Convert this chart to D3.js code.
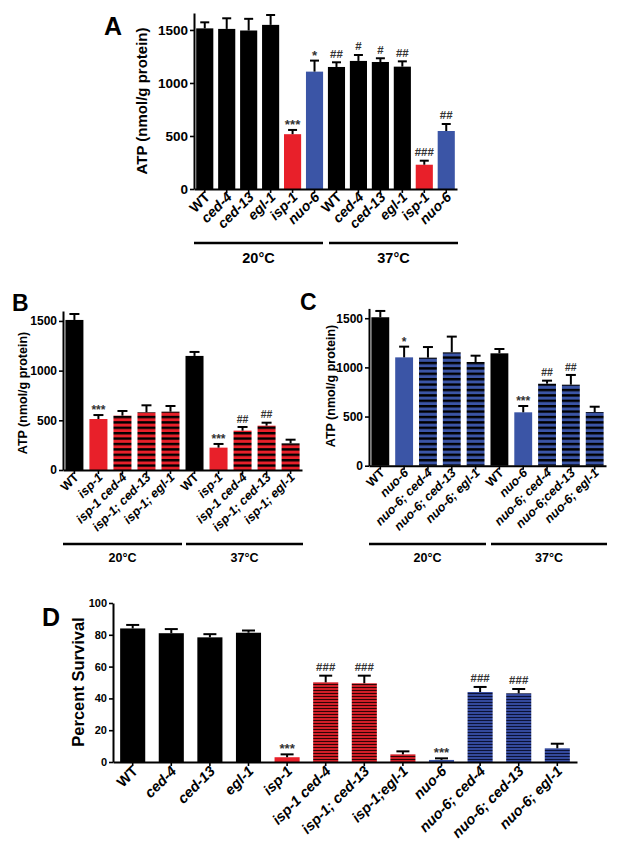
<!DOCTYPE html>
<html><head><meta charset="utf-8">
<script src="https://cdn.jsdelivr.net/npm/d3@7"></script>
<style>
body{margin:0;background:#fff;}
text{font-family:Arial,"Liberation Sans",sans-serif;font-weight:bold;}
</style></head>
<body>
<svg id="fig" width="621" height="851"></svg>
<script>
// ---------- DATA ----------
// Panel A
const catsA = ["WT","ced-4","ced-13","egl-1","isp-1","nuo-6","WT","ced-4","ced-13","egl-1","isp-1","nuo-6"];
const valsA = [1515,1510,1495,1548,517,1107,1151,1208,1198,1154,229,547];
const errA  = [57,100,110,93,40,104,44,56,35,50,38,66];
const typeA = ["k","k","k","k","r","b","k","k","k","k","r","b"];
const sigA  = ["","","","","***","*","##","#","#","##","###","##"];
const groupsA = ["20°C","37°C"];
const ticksA = [0,500,1000,1500];

// Panel B
const catsB = ["WT","isp-1","isp-1 ced-4","isp-1; ced-13","isp-1; egl-1","WT","isp-1","isp-1 ced-4","isp-1; ced-13","isp-1; egl-1"];
const valsB = [1510,513,547,581,587,1148,225,396,446,268];
const errB  = [60,40,47,70,57,40,37,37,30,37];
const typeB = ["k","r","rh","rh","rh","k","r","rh","rh","rh"];
const sigB  = ["","***","","","","","***","##","##",""];
const ticksB = [0,500,1000,1500];

// Panel C
const catsC = ["WT","nuo-6","nuo-6; ced-4","nuo-6; ced-13","nuo-6; egl-1","WT","nuo-6","nuo-6; ced-4","nuo-6;ced-13","nuo-6; egl-1"];
const valsC = [1510,1102,1099,1153,1055,1143,543,834,824,546];
const errC  = [64,109,108,160,64,44,64,31,99,54];
const typeC = ["k","b","bh","bh","bh","k","b","bh","bh","bh"];
const sigC  = ["","*","","","","","***","##","##",""];
const ticksC = [0,500,1000,1500];

// Panel D
const catsD = ["WT","ced-4","ced-13","egl-1","isp-1","isp-1 ced-4","isp-1; ced-13","isp-1;egl-1","nuo-6","nuo-6; ced-4","nuo-6; ced-13","nuo-6; egl-1"];
const valsD = [84,81,78.4,81.3,3,50.1,49.5,4.8,1.3,44,43.2,8.6];
const errD  = [2.2,2.6,2.0,1.4,1.8,4.2,4.8,1.9,1.0,3.2,2.7,2.9];
const typeD = ["k","k","k","k","r","rf","rf","rf","b","bf","bf","bf"];
const sigD  = ["","","","","***","###","###","","***","###","###",""];
const ticksD = [0,20,40,60,80,100];

// ---------- DRAW ----------
const svg = d3.select("#fig");
const defs = svg.append("defs");
const RED = "#e8202a", BLUE = "#3b55a6";
function stripe(id, bg, fg, period, th){
  const p = defs.append("pattern").attr("id",id).attr("patternUnits","userSpaceOnUse")
    .attr("width",8).attr("height",period);
  p.append("rect").attr("width",8).attr("height",period).attr("fill",bg);
  p.append("rect").attr("y",0).attr("width",8).attr("height",th).attr("fill",fg);
}
stripe("rh", RED, "#000", 5.4, 2.4);
stripe("bh", BLUE, "#000", 5.4, 2.4);
stripe("rf", "#d01f28", "#300405", 3, 1);
stripe("bf", "#34499c", "#0c1236", 3, 1);
const fillOf = t => ({k:"#000", r:RED, b:BLUE, rh:"url(#rh)", bh:"url(#bh)", rf:"url(#rf)", bf:"url(#bf)"})[t];

function panel(o){
  const g = svg.append("g");
  const idx = o.cats.map((d,i)=>i);
  const x = d3.scaleBand().domain(idx).range(o.xr).paddingInner(o.pi).paddingOuter(o.po);
  const y = d3.scaleLinear().domain(o.yd).range(o.yr);
  g.selectAll("rect.bar").data(idx).join("rect")
    .attr("x", i=>x(i)).attr("width", x.bandwidth())
    .attr("y", i=>y(o.vals[i])).attr("height", i=>y(0)-y(o.vals[i]))
    .attr("fill", i=>fillOf(o.types[i]));
  const cap = o.cap;
  idx.forEach(i=>{
    const cx = x(i)+x.bandwidth()/2;
    const top = y(o.vals[i]+o.errs[i]);
    g.append("line").attr("x1",cx).attr("x2",cx).attr("y1",y(o.vals[i])).attr("y2",top)
      .attr("stroke","#000").attr("stroke-width",o.ew);
    g.append("line").attr("x1",cx-cap/2).attr("x2",cx+cap/2).attr("y1",top).attr("y2",top)
      .attr("stroke","#000").attr("stroke-width",o.ew);
    const s = o.sig[i];
    if(s){
      const isStar = s[0]==="*";
      g.append("text").attr("x",cx).attr("y", top + (isStar? -1 : -o.sf*0.4))
        .attr("text-anchor","middle").attr("font-size", isStar? o.sf*1.15 : o.sf).attr("font-weight","normal")
        .attr("fill","#333").text(s);
    }
  });
  const ya = g.append("g").attr("transform",`translate(${o.xr[0]},0)`)
    .call(d3.axisLeft(y).tickValues(o.ticks).tickSize(4).tickSizeOuter(0).tickPadding(2).tickFormat(d3.format("d")));
  ya.select(".domain").attr("stroke-width",o.aw);
  ya.selectAll(".tick line").attr("stroke-width",o.aw*0.8);
  ya.selectAll("text").attr("font-size",o.tf).attr("font-family","Arial, Liberation Sans").attr("font-weight","bold");
  const xa = g.append("g").attr("transform",`translate(0,${o.yr[0]})`)
    .call(d3.axisBottom(x).tickSize(4).tickSizeOuter(0).tickFormat(""));
  xa.select(".domain").attr("stroke-width",o.aw);
  xa.selectAll(".tick line").attr("stroke-width",o.aw*0.8);
  idx.forEach(i=>{
    const cx = x(i)+x.bandwidth()/2;
    g.append("text").attr("text-anchor","end")
      .attr("transform",`translate(${cx+o.lx},${o.yr[0]+o.ly}) rotate(-45)`)
      .attr("font-size",o.xf).attr("font-style", o.cats[i]==="WT"?"normal":"italic")
      .text(o.cats[i]);
  });
  g.append("text").attr("text-anchor","middle")
    .attr("transform",`translate(${o.ylx},${o.yly}) rotate(-90)`)
    .attr("font-size",o.yf).text(o.ylab);
  g.append("text").attr("x",o.px).attr("y",o.py).attr("font-size",o.pf).text(o.letter);
  if(o.groups){
    o.groups.forEach(gr=>{
      g.append("line").attr("x1",gr.x1).attr("x2",gr.x2).attr("y1",o.gy).attr("y2",o.gy)
        .attr("stroke","#000").attr("stroke-width",2.5);
      g.append("text").attr("x",(gr.x1+gr.x2)/2).attr("y",o.gy+o.gty).attr("text-anchor","middle")
        .attr("font-size",o.gf).text(gr.label);
    });
  }
}

panel({cats:catsA, vals:valsA, errs:errA, types:typeA, sig:sigA, ticks:ticksA,
  xr:[194,457], pi:0.22, po:0.1, yd:[0,1660], yr:[189,13], cap:9, ew:2, aw:2,
  tf:13.5, xf:14, lx:6, ly:9, sf:11.5, yf:15, ylx:147, yly:101, ylab:"ATP (nmol/g protein)",
  letter:"A", px:104, py:35, pf:25,
  groups:[{x1:194,x2:323,label:groupsA[0]},{x1:329,x2:458,label:groupsA[1]}], gy:243, gty:20, gf:14.5});

panel({cats:catsB, vals:valsB, errs:errB, types:typeB, sig:sigB, ticks:ticksB,
  xr:[63,302], pi:0.25, po:0.1, yd:[0,1600], yr:[470,311], cap:10, ew:2, aw:2,
  tf:12, xf:12.5, lx:5, ly:8, sf:10.5, yf:12.5, ylx:27, yly:393, ylab:"ATP (nmol/g protein)",
  letter:"B", px:12, py:311, pf:23,
  groups:[{x1:63,x2:182,label:groupsA[0]},{x1:186,x2:303,label:groupsA[1]}], gy:544, gty:18, gf:12.5});

panel({cats:catsC, vals:valsC, errs:errC, types:typeC, sig:sigC, ticks:ticksC,
  xr:[369,606], pi:0.25, po:0.1, yd:[0,1600], yr:[465.7,308.4], cap:10, ew:2, aw:2,
  tf:12, xf:12.5, lx:5, ly:8, sf:10.5, yf:12.5, ylx:335, yly:386, ylab:"ATP (nmol/g protein)",
  letter:"C", px:300, py:310, pf:23,
  groups:[{x1:369,x2:486,label:groupsA[0]},{x1:491,x2:607,label:groupsA[1]}], gy:544, gty:18, gf:12.5});

panel({cats:catsD, vals:valsD, errs:errD, types:typeD, sig:sigD, ticks:ticksD,
  xr:[113,577], pi:0.35, po:0.185, yd:[0,100], yr:[762,603], cap:13, ew:2, aw:2,
  tf:11, xf:14.5, lx:6, ly:10, sf:11.5, yf:16.5, ylx:84, yly:682, ylab:"Percent Survival",
  letter:"D", px:42, py:626, pf:25});
</script>
</body></html>
